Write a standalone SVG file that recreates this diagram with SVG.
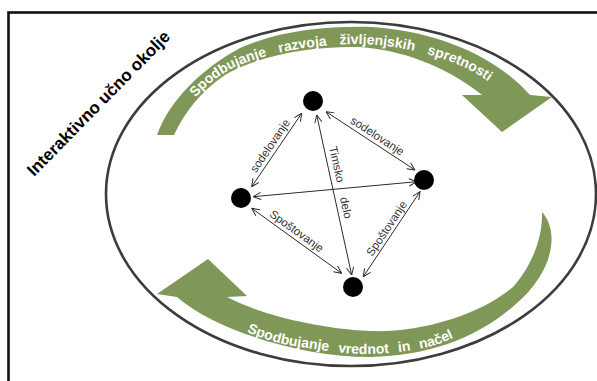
<svg xmlns="http://www.w3.org/2000/svg" width="597" height="381" viewBox="0 0 597 381">
  <style>
    .band { fill: #7f9757; }
    .bandText { font-family: "Liberation Sans", Arial, sans-serif; font-weight: bold; font-size: 14px; fill: #ffffff; }
    .edge { fill: none; stroke: #2b2b2b; stroke-width: 1; marker-start: url(#arr); marker-end: url(#arr); }
    .node { fill: #000000; }
    .lbl { font-family: "Liberation Sans", Arial, sans-serif; font-size: 11.5px; fill: #333333; text-anchor: middle; }
    .title { font-family: "Liberation Sans", Arial, sans-serif; font-weight: bold; font-size: 17px; fill: #000000; }
  </style>
  <defs>
    <marker id="arr" viewBox="0 0 10 10" refX="9.5" refY="5" markerWidth="9" markerHeight="9" markerUnits="userSpaceOnUse" orient="auto-start-reverse">
      <path d="M1,1 L9.5,5 L1,9" fill="none" stroke="#2b2b2b" stroke-width="1.1"/>
    </marker>
    <path id="topTextPath" d="M175,134 C185,105 205,82 235,67 C270,52 310,45 355,44 C395,44 440,55 470,70 C485,78 495,86 505,95"/>
    <path id="bottomTextPath" d="M225,322 C240,330 270,343 300,347 C330,351 345,354 362,354 C390,354 410,351 428,347 C440,344 450,340 470,330"/>
  </defs>

  <rect x="0" y="0" width="597" height="381" fill="#ffffff"/>

  <!-- outer frame: runs past the right and bottom edges -->
  <g id="frame">
    <rect x="8.5" y="12.5" width="700" height="500" fill="none" stroke="#111111" stroke-width="2.6"/>
  </g>

  <g id="environment-label">
    <text class="title" transform="translate(34,177) rotate(-45.5)">Interaktivno učno okolje</text>
  </g>

  <!-- learning environment boundary -->
  <g id="environment">
    <ellipse cx="351" cy="194" rx="245" ry="172" fill="none" stroke="#3c3c3c" stroke-width="2.6"/>
  </g>

  <!-- upper curved arrow -->
  <g id="life-skills">
    <path class="band" d="M157,135 C170,100 200,70 240,48 C280,30 330,26 370,27 C425,30 490,50 530,95 L552,97 L502,132 L462,95 L482,95 C445,65 400,50 360,47 C310,46 260,55 225,75 C200,92 185,112 174,135 Z"/>
    <text class="bandText" word-spacing="9"><textPath href="#topTextPath" startOffset="42">Spodbujanje razvoja življenjskih spretnosti</textPath></text>
  </g>

  <!-- lower curved arrow -->
  <g id="values">
    <path class="band" d="M177,297 L157,294 L208,259 L247,296 L227,297 C255,312 310,328 370,331 C420,333 480,315 513,287 C530,268 543,240 542,212 C560,232 553,272 517,303 C480,337 430,356 370,357 C300,357 215,330 177,297 Z"/>
    <text class="bandText" word-spacing="5.5"><textPath href="#bottomTextPath" startOffset="24">Spodbujanje vrednot in načel</textPath></text>
  </g>

  <!-- connectors between participants -->
  <g id="connectors">
    <line class="edge" x1="251.7" y1="186.7" x2="301.7" y2="113.3"/>
    <line class="edge" x1="326" y1="111.7" x2="415" y2="170"/>
    <line class="edge" x1="253.3" y1="196.7" x2="416.7" y2="181.7"/>
    <line class="edge" x1="316.7" y1="115" x2="351.7" y2="275"/>
    <line class="edge" x1="251.7" y1="208.3" x2="341.7" y2="273.3"/>
    <line class="edge" x1="363.3" y1="276.7" x2="420" y2="191.7"/>
    <text class="lbl" transform="translate(276.6,150.2) rotate(-55.7)" y="-4">sodelovanje</text>
    <text class="lbl" transform="translate(373.1,142.6) rotate(33.2)" y="-4">sodelovanje</text>
    <text class="lbl" transform="translate(331.9,184.3) rotate(77.7)" y="-5" word-spacing="12">Timsko delo</text>
    <text class="lbl" transform="translate(292,237.4) rotate(35.8)" y="-4">Spoštovanje</text>
    <text class="lbl" transform="translate(392.8,232.5) rotate(-56.3)" y="-3.5">Spoštovanje</text>
  </g>

  <g id="node-top"><circle class="node" cx="313" cy="101" r="10"/></g>
  <g id="node-left"><circle class="node" cx="241" cy="198" r="10"/></g>
  <g id="node-right"><circle class="node" cx="424" cy="180" r="10"/></g>
  <g id="node-bottom"><circle class="node" cx="353" cy="287" r="10"/></g>
</svg>
